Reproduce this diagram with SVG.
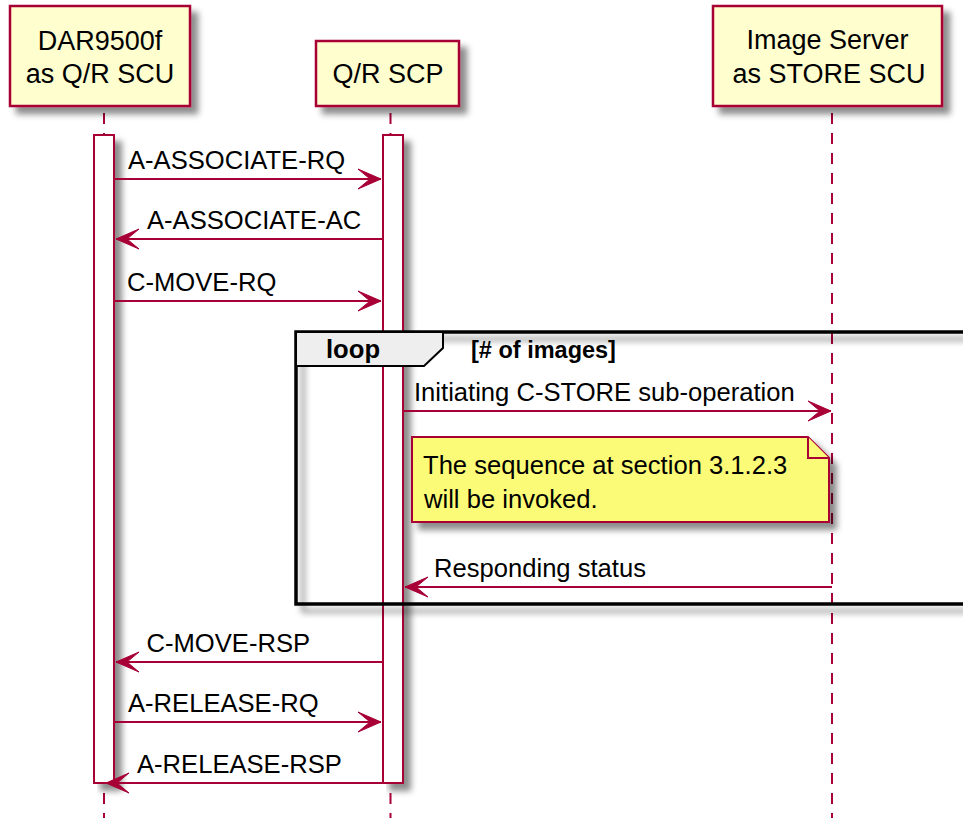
<svg xmlns="http://www.w3.org/2000/svg" width="963" height="818" viewBox="0 0 963 818">
<style>
  text { font-family: "Liberation Sans", Arial, sans-serif; fill: #000000; }
  .pbox { fill: #FEFECE; stroke: #A80036; stroke-width: 2.5; }
  .ptxt { font-size: 27px; text-anchor: middle; }
  .life { stroke: #A80036; stroke-width: 2; stroke-dasharray: 11 9; fill: none; }
  .act { fill: #FFFFFF; stroke: #A80036; stroke-width: 2; }
  .msg { stroke: #A80036; stroke-width: 2; fill: none; marker-end: url(#ah); }
  .mtxt { font-size: 25.6px; }
  .frame { fill: none; stroke: #000000; stroke-width: 3.5; }
  .tab { fill: #EEEEEE; stroke: #000000; stroke-width: 2; }
  .note { fill: #FBFB77; stroke: #A80036; stroke-width: 2; }
</style>
<defs>
  <filter id="sh" x="-0.2" y="-0.2" width="3" height="1.6">
    <feGaussianBlur in="SourceAlpha" stdDeviation="3" result="b"/>
    <feOffset in="b" dx="7" dy="7" result="o"/>
    <feColorMatrix in="o" type="matrix" values="0 0 0 0 0  0 0 0 0 0  0 0 0 0 0  0 0 0 0.45 0" result="s"/>
    <feMerge><feMergeNode in="s"/><feMergeNode in="SourceGraphic"/></feMerge>
  </filter>
  <marker id="ah" markerUnits="userSpaceOnUse" viewBox="-24 -11 25 22" refX="0" refY="0" markerWidth="25" markerHeight="22" orient="auto">
    <path d="M0,0 L-23,-10 L-11,0 L-23,10 Z" fill="#A80036" stroke="#A80036" stroke-width="1"/>
  </marker>
</defs>
<rect width="963" height="818" fill="#FFFFFF"/>

<g id="lifelines">
  <line class="life" x1="104" y1="113" x2="104" y2="818"/>
  <line class="life" x1="390.5" y1="113" x2="390.5" y2="818"/>
  <line class="life" x1="832" y1="113" x2="832" y2="818"/>
</g>

<g id="p-dar">
  <rect class="pbox" x="10" y="6" width="180" height="100" filter="url(#sh)"/>
  <text class="ptxt" x="100" y="50">DAR9500f</text>
  <text class="ptxt" x="100" y="83">as Q/R SCU</text>
</g>
<g id="p-qr">
  <rect class="pbox" x="316" y="41" width="143" height="65" filter="url(#sh)"/>
  <text class="ptxt" x="388" y="83">Q/R SCP</text>
</g>
<g id="p-img">
  <rect class="pbox" x="713" y="6" width="229" height="100" filter="url(#sh)"/>
  <text class="ptxt" x="827.5" y="49">Image Server</text>
  <text class="ptxt" x="829" y="83">as STORE SCU</text>
</g>

<g id="act-dar">
  <rect class="act" x="94" y="135" width="20" height="648" filter="url(#sh)"/>
</g>
<g id="act-qr">
  <rect class="act" x="383" y="135" width="20" height="648" filter="url(#sh)"/>
</g>

<g id="loop">
  <rect class="frame" x="296" y="332" width="700" height="272" filter="url(#sh)"/>
  <path class="tab" d="M296,332 H443 V348 L424,366 H296 Z"/>
  <text x="326" y="358" font-size="25.6" font-weight="bold">loop</text>
  <text x="471" y="358" font-size="23.5" font-weight="bold">[# of images]</text>
</g>

<g id="note">
  <path class="note" d="M412,437 H808 L829,458 V522 H412 Z" filter="url(#sh)"/>
  <path class="note" d="M808,437 V458 H829"/>
  <text class="mtxt" x="423" y="474">The sequence at section 3.1.2.3</text>
  <text class="mtxt" x="424" y="508">will be invoked.</text>
</g>

<g id="connectors">
  <line class="msg" x1="114" y1="179" x2="381" y2="179"/>
  <text class="mtxt" x="128" y="169">A-ASSOCIATE-RQ</text>
  <line class="msg" x1="383" y1="239" x2="116" y2="239"/>
  <text class="mtxt" x="147" y="229">A-ASSOCIATE-AC</text>
  <line class="msg" x1="114" y1="301" x2="381" y2="301"/>
  <text class="mtxt" x="127" y="291">C-MOVE-RQ</text>
  <line class="msg" x1="403" y1="411" x2="831" y2="411"/>
  <text class="mtxt" x="414" y="401">Initiating C-STORE sub-operation</text>
  <line class="msg" x1="832" y1="587" x2="405" y2="587"/>
  <text class="mtxt" x="434" y="577">Responding status</text>
  <line class="msg" x1="383" y1="662" x2="116" y2="662"/>
  <text class="mtxt" x="146.5" y="652">C-MOVE-RSP</text>
  <line class="msg" x1="114" y1="722" x2="381" y2="722"/>
  <text class="mtxt" x="128" y="712">A-RELEASE-RQ</text>
  <line class="msg" x1="383" y1="783" x2="106" y2="783"/>
  <text class="mtxt" x="137" y="773">A-RELEASE-RSP</text>
</g>
</svg>
